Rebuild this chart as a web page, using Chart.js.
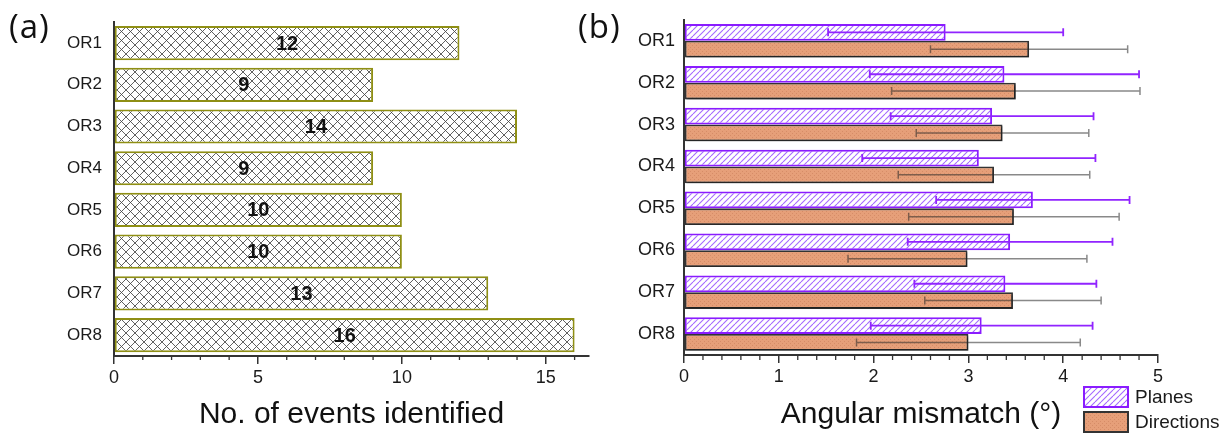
<!DOCTYPE html>
<html>
<head>
<meta charset="utf-8">
<script src="https://cdn.jsdelivr.net/npm/chart.js@4.4.1/dist/chart.umd.min.js"></script>
<style>
  html, body { margin: 0; padding: 0; background: #fff; }
  #wrap { position: relative; width: 1230px; height: 434px; overflow: hidden; }
  .panel { position: absolute; top: 0; width: 615px; height: 434px; }
  #pa { left: 0; }
  #pb { left: 615px; }
  .tag { position: absolute; top: 4px; font-family: "Open Sans", sans-serif; font-size: 33px; letter-spacing: 1px; color: #111; line-height: 44px; }
</style>
</head>
<body>
<div id="wrap">
  <div class="panel" id="pa"><canvas id="ca" width="615" height="434"></canvas></div>
  <div class="panel" id="pb"><canvas id="cb" width="615" height="434"></canvas></div>
  <div class="tag" style="left:9px">(a)</div>
  <div class="tag" style="left:578px">(b)</div>
</div>
<script>
// ---- data ----
const regions = ['OR1', 'OR2', 'OR3', 'OR4', 'OR5', 'OR6', 'OR7', 'OR8'];
const eventCounts = [12, 9, 14, 9, 10, 10, 13, 16];

const planeMeans = [2.76, 3.38, 3.25, 3.11, 3.68, 3.44, 3.39, 3.14];
const planeErrors = [1.24, 1.42, 1.07, 1.23, 1.02, 1.08, 0.96, 1.17];
const directionMeans = [3.64, 3.50, 3.36, 3.27, 3.48, 2.99, 3.47, 3.00];
const directionErrors = [1.04, 1.31, 0.91, 1.01, 1.11, 1.26, 0.93, 1.18];

const countTicks = [0, 5, 10, 15];
const angleTicks = [0, 1, 2, 3, 4, 5];

Chart.defaults.font.family = "'Liberation Sans', Arial, sans-serif";
Chart.defaults.color = '#1a1a1a';
Chart.defaults.animation = false;

// ---- fill patterns ----
function makePattern(size, bg, draw) {
  const c = document.createElement('canvas');
  c.width = size; c.height = size;
  const g = c.getContext('2d');
  g.fillStyle = bg; g.fillRect(0, 0, size, size);
  draw(g, size);
  return document.createElement('canvas').getContext('2d').createPattern(c, 'repeat');
}
const crossHatch = makePattern(9, '#ffffff', (g, s) => {
  g.strokeStyle = '#444444'; g.lineWidth = 0.85;
  for (const k of [-s, 0, s]) {
    g.beginPath(); g.moveTo(k, 0); g.lineTo(k + s, s); g.stroke();
    g.beginPath(); g.moveTo(k, s); g.lineTo(k + s, 0); g.stroke();
  }
});
const planeHatch = makePattern(6, '#ffffff', (g, s) => {
  g.strokeStyle = '#a368ff'; g.lineWidth = 1.1;
  for (const k of [-s, 0, s]) {
    g.beginPath(); g.moveTo(k, s); g.lineTo(k + s, 0); g.stroke();
  }
});
const directionDots = makePattern(4, '#e69f79', (g) => {
  g.fillStyle = '#d68c67';
  g.fillRect(1, 1, 1, 1);
  g.fillRect(3, 3, 1, 1);
});

// ---- plugins ----
const minorTicks = {
  id: 'minorTicks',
  afterDraw(chart, args, opts) {
    const s = chart.scales.x, ctx = chart.ctx;
    const n = Math.floor(s.max / opts.step + 1e-9);
    ctx.save();
    ctx.strokeStyle = opts.color; ctx.lineWidth = 1.3;
    for (let i = 0; i <= n; i++) {
      if (i % opts.majorEvery === 0) continue;
      const px = s.getPixelForValue(i * opts.step);
      ctx.beginPath(); ctx.moveTo(px, s.top); ctx.lineTo(px, s.top + opts.len); ctx.stroke();
    }
    ctx.restore();
  }
};

const valueLabels = {
  id: 'valueLabels',
  afterDatasetsDraw(chart) {
    const ctx = chart.ctx;
    const meta = chart.getDatasetMeta(0);
    const ds = chart.data.datasets[0];
    ctx.save();
    ctx.font = "bold 20px 'Liberation Sans', Arial, sans-serif";
    ctx.fillStyle = '#111';
    ctx.textAlign = 'center'; ctx.textBaseline = 'middle';
    meta.data.forEach((bar, i) => {
      ctx.fillText(String(ds.data[i]), (bar.base + bar.x) / 2, bar.y + 1);
    });
    ctx.restore();
  }
};

const errorBars = {
  id: 'errorBars',
  afterDatasetsDraw(chart) {
    const ctx = chart.ctx, xs = chart.scales.x;
    chart.data.datasets.forEach((ds, di) => {
      if (!ds.errors) return;
      const meta = chart.getDatasetMeta(di);
      ctx.save();
      ctx.strokeStyle = ds.errorColor; ctx.lineWidth = ds.errorWidth;
      meta.data.forEach((bar, i) => {
        const lo = xs.getPixelForValue(ds.data[i] - ds.errors[i]);
        const hi = xs.getPixelForValue(ds.data[i] + ds.errors[i]);
        const y = bar.y;
        ctx.beginPath();
        ctx.moveTo(lo, y); ctx.lineTo(hi, y);
        ctx.moveTo(lo, y - 4); ctx.lineTo(lo, y + 4);
        ctx.moveTo(hi, y - 4); ctx.lineTo(hi, y + 4);
        ctx.stroke();
      });
      ctx.restore();
    });
  }
};

const barShadow = {
  id: 'barShadow',
  beforeDatasetDraw(chart, args) {
    if (!chart.data.datasets[args.index].shadow) return;
    const ctx = chart.ctx;
    ctx.save();
    ctx.shadowColor = 'rgba(0,0,0,0.35)';
    ctx.shadowOffsetX = 1.5; ctx.shadowOffsetY = 1.5; ctx.shadowBlur = 1;
  },
  afterDatasetDraw(chart, args) {
    if (!chart.data.datasets[args.index].shadow) return;
    chart.ctx.restore();
  }
};

const sideLegend = {
  id: 'sideLegend',
  afterDraw(chart, args, opts) {
    const ctx = chart.ctx;
    ctx.save();
    chart.data.datasets.forEach((ds, i) => {
      const x = opts.x, y = opts.y + i * opts.rowGap;
      ctx.fillStyle = ds.backgroundColor;
      ctx.fillRect(x, y, opts.w, opts.h);
      ctx.strokeStyle = ds.borderColor; ctx.lineWidth = 2;
      ctx.strokeRect(x + 1, y + 1, opts.w - 2, opts.h - 2);
      ctx.fillStyle = '#1a1a1a';
      ctx.font = "19px 'Liberation Sans', Arial, sans-serif";
      ctx.textAlign = 'left'; ctx.textBaseline = 'middle';
      ctx.fillText(ds.label, x + opts.w + 6, y + opts.h / 2 + 1);
    });
    ctx.restore();
  }
};

// ---- shared axis styling ----
function xAxis(max, ticks, title, height) {
  return {
    type: 'linear', min: 0, max: max,
    afterBuildTicks: s => { s.ticks = ticks.map(v => ({ value: v })); },
    afterFit: s => { s.height = height; },
    grid: { display: true, drawOnChartArea: false, drawTicks: true, tickLength: 8, color: '#333', lineWidth: 1.5 },
    border: { display: true, color: '#333', width: 2 },
    ticks: { font: { size: 18 }, padding: 3, maxRotation: 0, autoSkip: false, color: '#1a1a1a' },
    title: { display: true, text: title, font: { size: 30 }, color: '#111', padding: { top: 0, bottom: 1 } }
  };
}
function yAxis(width, size, pad) {
  return {
    afterFit: s => { s.width = width; },
    grid: { display: false, drawTicks: false },
    border: { display: true, color: '#333', width: 2 },
    ticks: { font: { size: size }, padding: pad, color: '#1a1a1a' }
  };
}

// ---- (a) number of events ----
new Chart(document.getElementById('ca'), {
  type: 'bar',
  data: {
    labels: regions,
    datasets: [{
      label: 'Events',
      data: eventCounts,
      backgroundColor: crossHatch,
      borderColor: '#8f8f14',
      borderWidth: 2,
      borderSkipped: false,
      barPercentage: 0.82,
      categoryPercentage: 1
    }]
  },
  options: {
    indexAxis: 'y',
    responsive: false,
    animation: false,
    layout: { padding: { top: 7, right: 26, bottom: 0, left: 0 } },
    plugins: {
      legend: { display: false },
      tooltip: { enabled: false },
      minorTicks: { step: 1, majorEvery: 5, len: 4, color: '#333' }
    },
    scales: {
      x: xAxis(16.5, countTicks, 'No. of events identified', 78),
      y: yAxis(114, 17, 12)
    }
  },
  plugins: [minorTicks, valueLabels]
});

// ---- (b) angular mismatch ----
new Chart(document.getElementById('cb'), {
  type: 'bar',
  data: {
    labels: regions,
    datasets: [{
      label: 'Planes',
      data: planeMeans,
      errors: planeErrors,
      errorColor: '#9124ff',
      errorWidth: 1.8,
      backgroundColor: planeHatch,
      borderColor: '#8a1cff',
      borderWidth: 2,
      borderSkipped: false,
      barPercentage: 1,
      categoryPercentage: 0.8
    }, {
      label: 'Directions',
      data: directionMeans,
      errors: directionErrors,
      errorColor: 'rgba(40,40,40,0.55)',
      errorWidth: 1.5,
      shadow: true,
      backgroundColor: directionDots,
      borderColor: '#333333',
      borderWidth: 1.8,
      borderSkipped: false,
      barPercentage: 1,
      categoryPercentage: 0.8
    }]
  },
  options: {
    indexAxis: 'y',
    responsive: false,
    animation: false,
    layout: { padding: { top: 7, right: 72, bottom: 0, left: 0 } },
    plugins: {
      legend: { display: false },
      tooltip: { enabled: false },
      minorTicks: { step: 0.2, majorEvery: 5, len: 5, color: '#333' },
      sideLegend: { x: 468, y: 386, w: 46, h: 22, rowGap: 25 }
    },
    scales: {
      x: xAxis(5, angleTicks, 'Angular mismatch (°)', 79),
      y: yAxis(69, 18, 9)
    }
  },
  plugins: [barShadow, errorBars, minorTicks, sideLegend]
});
</script>
</body>
</html>
